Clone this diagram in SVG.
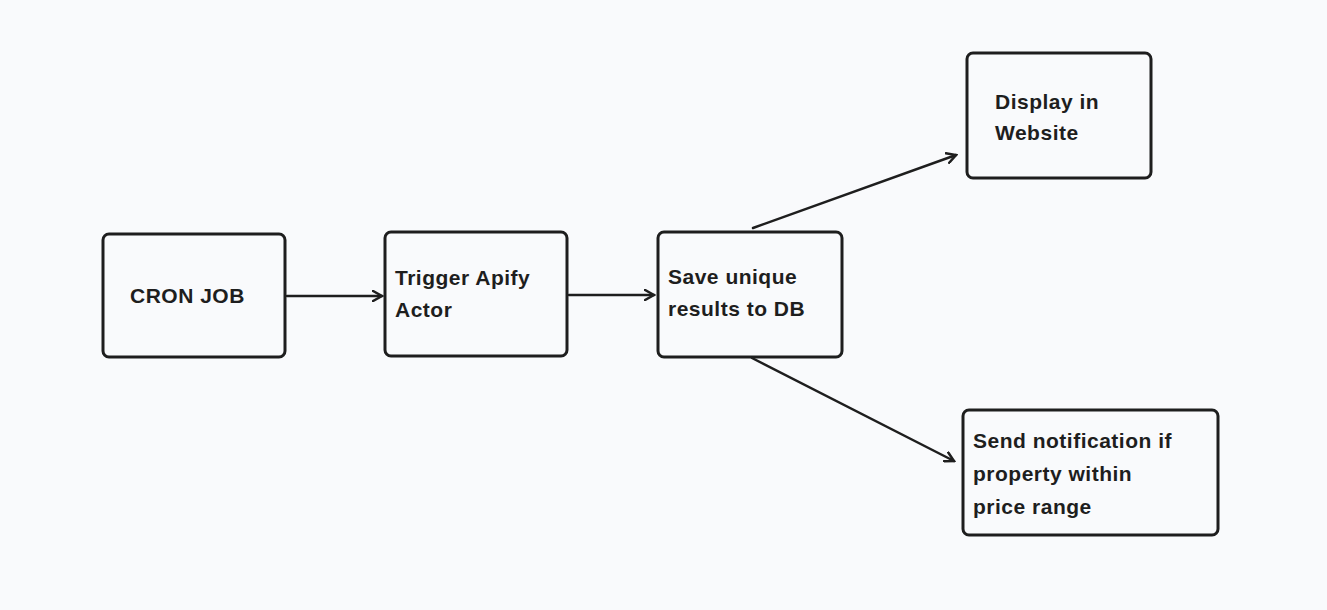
<svg xmlns="http://www.w3.org/2000/svg" width="1327" height="610" viewBox="0 0 1327 610">
<style>
.box{fill:none;stroke:#1e1e1e;stroke-width:3;}
.t{font-family:"Liberation Sans",Arial,sans-serif;font-size:21px;font-weight:bold;fill:#1e1e1e;letter-spacing:0.5px;}
.c{fill:none;stroke:#1e1e1e;stroke-width:2.5;stroke-linecap:round;}
</style>
<defs>
<marker id="a" viewBox="0 0 12 12" refX="10" refY="6" markerWidth="12" markerHeight="12" markerUnits="userSpaceOnUse" orient="auto">
<path d="M1,1 L10,6 L1,11" fill="none" stroke="#1e1e1e" stroke-width="2.5" stroke-linecap="round"/>
</marker>
</defs>
<rect width="1327" height="610" fill="#f9fafc"/>
<g id="cron"><rect class="box" x="103" y="234" width="182" height="123" rx="6"/><text class="t" x="130" y="303">CRON JOB</text></g>
<g id="trigger"><rect class="box" x="385" y="232" width="182" height="124" rx="6"/><text class="t" x="395" y="285">Trigger Apify</text><text class="t" x="395" y="317">Actor</text></g>
<g id="save"><rect class="box" x="658" y="232" width="184" height="125" rx="6"/><text class="t" x="668" y="284">Save unique</text><text class="t" x="668" y="316">results to DB</text></g>
<g id="display"><rect class="box" x="967" y="53" width="184" height="125" rx="6"/><text class="t" x="995" y="109">Display in</text><text class="t" x="995" y="140">Website</text></g>
<g id="send"><rect class="box" x="963" y="410" width="255" height="125" rx="6"/><text class="t" x="973" y="448">Send notification if</text><text class="t" x="973" y="481">property within</text><text class="t" x="973" y="514">price range</text></g>
<g id="connectors">
<line class="c" x1="287" y1="296" x2="382" y2="296" marker-end="url(#a)"/>
<line class="c" x1="569" y1="295" x2="654" y2="295" marker-end="url(#a)"/>
<line class="c" x1="753" y1="228" x2="956" y2="155" marker-end="url(#a)"/>
<line class="c" x1="752" y1="358" x2="954" y2="461" marker-end="url(#a)"/>
</g>
</svg>
